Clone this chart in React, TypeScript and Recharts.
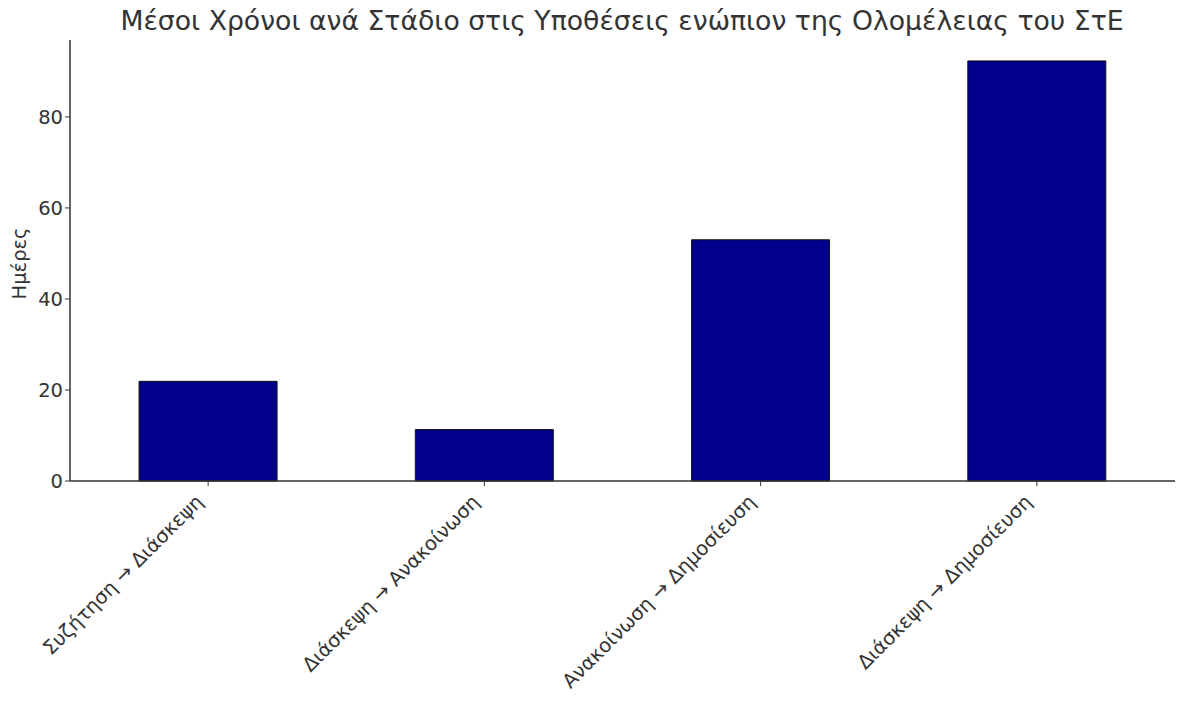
import { BarChart, Bar, XAxis, YAxis, Label } from 'recharts';

const stages = [
  'Συζήτηση → Διάσκεψη',
  'Διάσκεψη → Ανακοίνωση',
  'Ανακοίνωση → Δημοσίευση',
  'Διάσκεψη → Δημοσίευση',
];
const meanDays = [21.9, 11.3, 53.0, 92.3];
const yTicks = [0, 20, 40, 60, 80];

const data = stages.map((stage, i) => ({ stage, days: meanDays[i] }));

const FONT = 'DejaVu Sans';
const INK = '#333333';

const RotatedTick = ({ x, y, payload }: any) => (
  <text
    x={x - 4}
    y={y + 15}
    transform={`rotate(-45, ${x - 4}, ${y + 15})`}
    textAnchor="end"
    fontSize={19.5}
    fontFamily={FONT}
    fill={INK}
  >
    {payload.value}
  </text>
);

export default function App() {
  return (
    <div style={{ position: 'absolute', left: 0, top: 0, width: 1180, height: 702, background: '#fff' }}>
      <div
        style={{
          position: 'absolute', left: 0, top: 5, width: 1244, textAlign: 'center',
          fontFamily: FONT, fontSize: 26.7, color: INK, whiteSpace: 'nowrap', lineHeight: '32px',
        }}
      >
        Μέσοι Χρόνοι ανά Στάδιο στις Υποθέσεις ενώπιον της Ολομέλειας του ΣτΕ
      </div>
      <BarChart
        width={1180}
        height={702}
        data={data}
        margin={{ top: 40, right: 5, bottom: 0, left: 0 }}
        barCategoryGap="25%"
      >
        <XAxis
          dataKey="stage"
          height={221}
          interval={0}
          tick={<RotatedTick />}
          tickLine={{ stroke: INK }}
          tickSize={5}
          axisLine={{ stroke: INK, strokeWidth: 1.5 }}
        />
        <YAxis
          width={70}
          domain={[0, 96.9]}
          ticks={yTicks}
          tick={{ fontSize: 19.5, fontFamily: FONT, fill: INK }}
          tickLine={{ stroke: INK }}
          tickSize={5}
          axisLine={{ stroke: INK, strokeWidth: 1.5 }}
        >
          <Label
            value="Ημέρες"
            angle={-90}
            position="insideLeft"
            offset={19}
            dy={3}
            style={{ fontSize: 19.5, fontFamily: FONT, fill: INK, textAnchor: 'middle' }}
          />
        </YAxis>
        <Bar dataKey="days" fill="#00008b" stroke="#111" strokeWidth={1} isAnimationActive={false} />
      </BarChart>
    </div>
  );
}
